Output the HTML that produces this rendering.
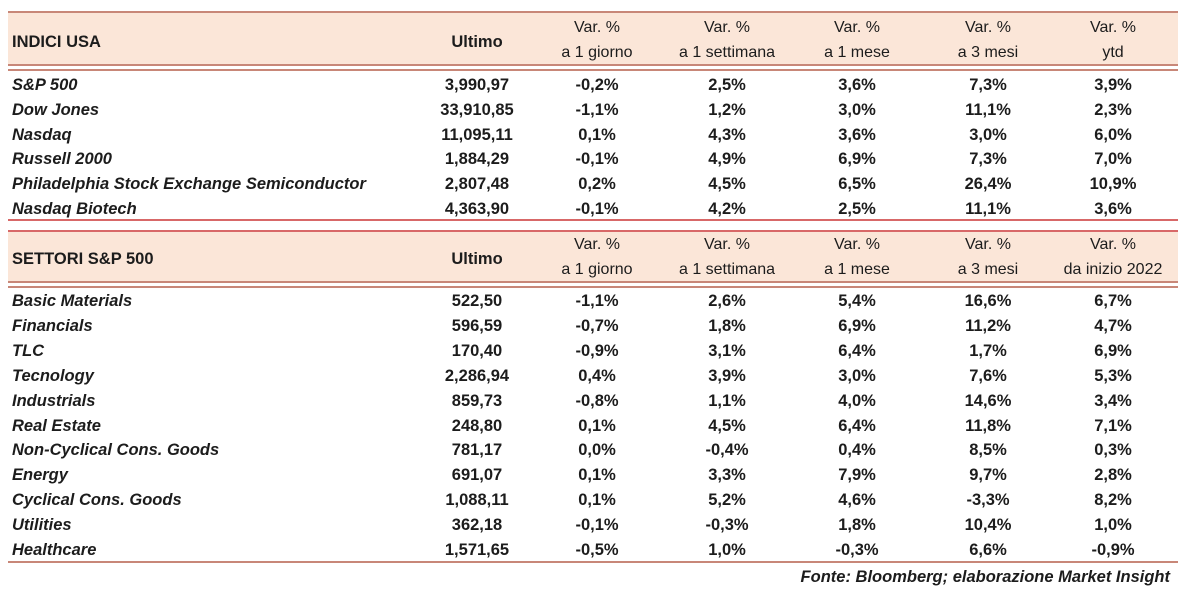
<!DOCTYPE html>
<html><head><meta charset="utf-8"><style>
body{margin:0;background:#fff;width:1190px;height:593px;position:relative;overflow:hidden;font-family:"Liberation Sans",sans-serif;color:#1c1c1c}
.ab{position:absolute}
.hl{position:absolute;left:8px;width:1170px;height:3px;background:#c88778}
.hbg{position:absolute;left:8px;width:1170px;background:#fbe6d8}
.t{position:absolute;font-size:16.5px;font-weight:bold;white-space:nowrap;line-height:18px}
.c{transform:translateX(-50%)}
.n{font-style:italic}
.h{font-weight:normal;font-size:16px}
</style></head><body>
<div class="hbg" style="top:12px;height:53px"></div>
<div class="hl" style="top:11px;height:2px"></div>
<div class="hl" style="top:64px;height:2px"></div>
<div class="hl" style="top:69px;height:2px"></div>
<div class="hl" style="top:219px;height:2px;background:#d86868"></div>
<div class="hbg" style="top:231px;height:51px"></div>
<div class="hl" style="top:230px;height:2px;background:#d86868"></div>
<div class="hl" style="top:281px;height:2px"></div>
<div class="hl" style="top:286px;height:2px"></div>
<div class="hl" style="top:561px;height:2px"></div>
<div id="tbl"></div>
<div class="t n ab" style="right:20px;top:568px">Fonte: Bloomberg; elaborazione Market Insight</div>
<script>
const cols=[477,597,727,857,988,1113];
const usaNames=["S&P 500","Dow Jones","Nasdaq","Russell 2000","Philadelphia Stock Exchange Semiconductor","Nasdaq Biotech"];
const usaVals=[["3,990,97","-0,2%","2,5%","3,6%","7,3%","3,9%"],["33,910,85","-1,1%","1,2%","3,0%","11,1%","2,3%"],["11,095,11","0,1%","4,3%","3,6%","3,0%","6,0%"],["1,884,29","-0,1%","4,9%","6,9%","7,3%","7,0%"],["2,807,48","0,2%","4,5%","6,5%","26,4%","10,9%"],["4,363,90","-0,1%","4,2%","2,5%","11,1%","3,6%"]];
const secNames=["Basic Materials","Financials","TLC","Tecnology","Industrials","Real Estate","Non-Cyclical Cons. Goods","Energy","Cyclical Cons. Goods","Utilities","Healthcare"];
const secVals=[["522,50","-1,1%","2,6%","5,4%","16,6%","6,7%"],["596,59","-0,7%","1,8%","6,9%","11,2%","4,7%"],["170,40","-0,9%","3,1%","6,4%","1,7%","6,9%"],["2,286,94","0,4%","3,9%","3,0%","7,6%","5,3%"],["859,73","-0,8%","1,1%","4,0%","14,6%","3,4%"],["248,80","0,1%","4,5%","6,4%","11,8%","7,1%"],["781,17","0,0%","-0,4%","0,4%","8,5%","0,3%"],["691,07","0,1%","3,3%","7,9%","9,7%","2,8%"],["1,088,11","0,1%","5,2%","4,6%","-3,3%","8,2%"],["362,18","-0,1%","-0,3%","1,8%","10,4%","1,0%"],["1,571,65","-0,5%","1,0%","-0,3%","6,6%","-0,9%"]];
const hdr1=["Var. %","Var. %","Var. %","Var. %","Var. %"];
const hdrUsa=["a 1 giorno","a 1 settimana","a 1 mese","a 3 mesi","ytd"];
const hdrSec=["a 1 giorno","a 1 settimana","a 1 mese","a 3 mesi","da inizio 2022"];
const root=document.getElementById('tbl');
function txt(s,x,y,cls,center){const d=document.createElement('div');d.className='t '+cls+(center?' c':'');d.textContent=s;d.style.left=x+'px';d.style.top=(y-8)+'px';root.appendChild(d);return d;}
function header(title,y,sub){
 let d=txt(title,12,y+2,'',false);
 
 
 d=txt('Ultimo',cols[0],y+2,'',true);
 
 
 for(let i=0;i<5;i++){
  d=txt(hdr1[i],cols[i+1],y-12,'h',true);
  
  
  d=txt(sub[i],cols[i+1],y+13,'h',true);
  
  
 }
}
function rows(names,vals,y0,step){
 names.forEach((n,r)=>{const y=y0+r*step;
  let d=txt(n,12,y,'n',false);
  
  
  vals[r].forEach((v,i)=>{d=txt(v,cols[i],y,'',true);
   
   });
 });
}
header('INDICI USA',39,hdrUsa);
rows(usaNames,usaVals,84,24.8);
header('SETTORI S&P 500',256,hdrSec);
rows(secNames,secVals,300,24.9);
</script>
</body></html>
